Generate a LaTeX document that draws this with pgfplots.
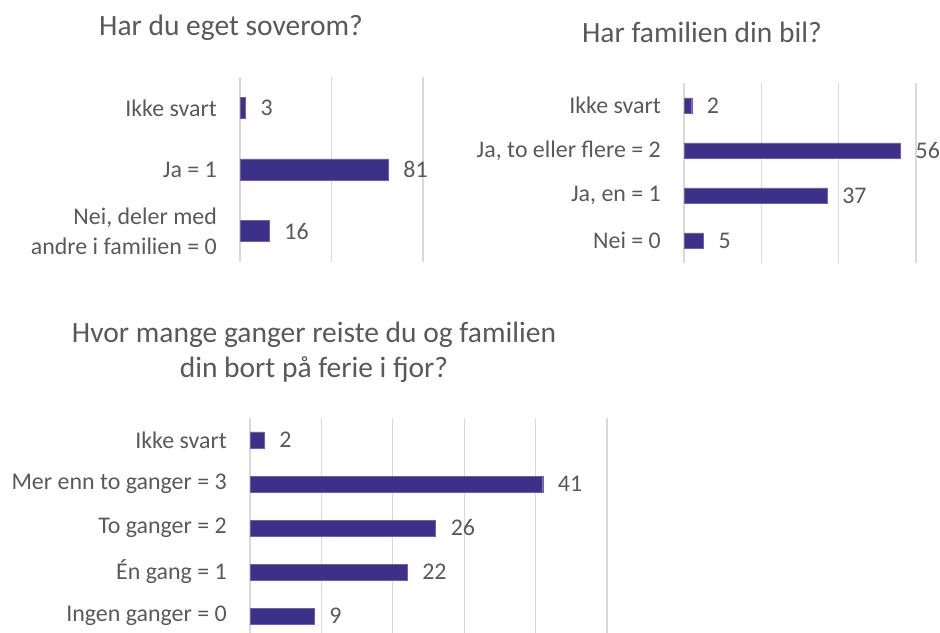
\documentclass[border=0pt]{standalone}
\usepackage{pgfplots}
\pgfplotsset{compat=1.18}
\usepackage{fontspec}
\setmainfont{Carlito}
\definecolor{barc}{RGB}{60,48,136}
\definecolor{txt}{RGB}{89,89,89}
\definecolor{grd}{RGB}{217,217,217}
\newcommand{\lab}{\fontsize{24}{30}\selectfont}
\newcommand{\ttl}{\fontsize{29.6}{35}\selectfont}
\begin{document}
\begin{tikzpicture}
\useasboundingbox (0bp,0bp) rectangle (940bp,633bp);
\pgfplotsset{
  mybar/.style={
    xbar, scale only axis, anchor=south west,
    axis line style={draw=none},
    xmajorgrids, major grid style={grd, line width=1.3bp},
    xticklabels={}, major tick length=0pt,
    ytick=data,
    point meta=x,
    /pgf/number format/assume math mode=true,
    nodes near coords,
    every node near coord/.append style={text=txt, font=\lab, anchor=west, inner sep=0pt, xshift=15bp},
    yticklabel style={text=txt, font=\lab, align=right, inner sep=0pt, anchor=east, xshift=-23bp},
  }
}
% Chart 1
\begin{axis}[mybar, at={(240bp,371bp)}, width=183bp, height=185bp,
  xmin=0, xmax=100, xtick={0,50,100},
  ymin=-0.5, ymax=2.5, bar width=21bp,
  yticklabels={{Nei, deler med\\andre i familien = 0},{Ja = 1},{Ikke svart}}]
\addplot[fill=barc, draw=barc!75!white] coordinates {(16,0) (81,1) (3,2)};
\end{axis}
\node[anchor=base, text=txt, font=\ttl] at (231bp,597bp) {Har du eget soverom?};
% Chart 2
\begin{axis}[mybar, at={(684bp,370bp)}, width=232bp, height=180bp,
  xmin=0, xmax=60, xtick={0,20,40,60},
  ymin=-0.5, ymax=3.5, bar width=15bp,
  yticklabels={{Nei = 0},{Ja, en = 1},{Ja, to eller flere = 2},{Ikke svart}}]
\addplot[fill=barc, draw=barc!75!white] coordinates {(5,0) (37,1) (56,2) (2,3)};
\end{axis}
\node[anchor=base, text=txt, font=\ttl] at (702bp,590bp) {Har familien din bil?};
% Chart 3
\begin{axis}[mybar, at={(250bp,0bp)}, width=357bp, height=215bp,
  xmin=0, xmax=50, xtick={0,10,20,30,40,50},
  ymin=-0.386, ymax=4.5, bar width=16bp,
  yticklabels={{Ingen ganger = 0},{Én gang = 1},{To ganger = 2},{Mer enn to ganger = 3},{Ikke svart}}]
\addplot[fill=barc, draw=barc!75!white] coordinates {(9,0) (22,1) (26,2) (41,3) (2,4)};
\end{axis}
\node[anchor=base, text=txt, font=\ttl] at (314bp,290bp) {Hvor mange ganger reiste du og familien};
\node[anchor=base, text=txt, font=\ttl] at (314bp,255bp) {din bort på ferie i fjor?};
\end{tikzpicture}
\end{document}
